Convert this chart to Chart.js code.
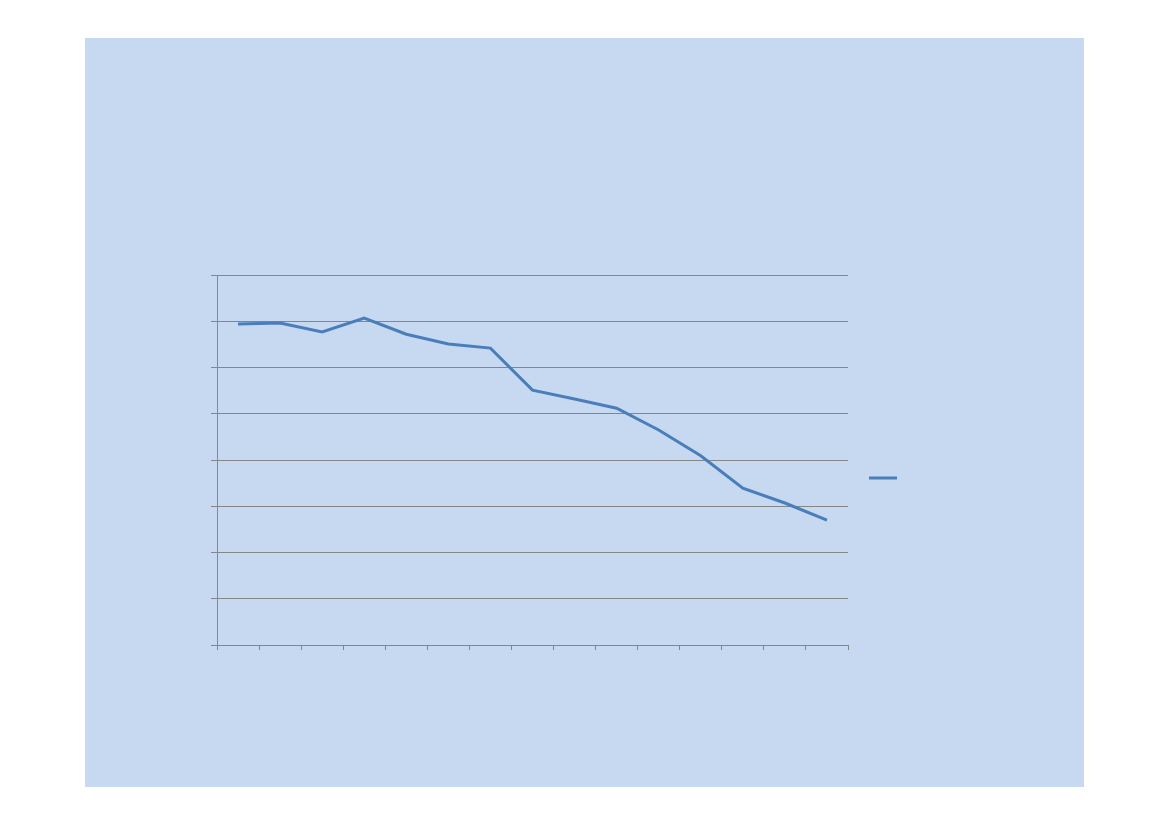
<!DOCTYPE html>
<html>
<head>
<meta charset="utf-8">
<script src="https://cdn.jsdelivr.net/npm/chart.js@4"></script>
<style>
  html, body { margin: 0; padding: 0; background: #ffffff; }
  #panel { position: absolute; left: 85px; top: 38px; width: 999px; height: 749px; background: #C6D9F1; }
  canvas { display: block; }
</style>
</head>
<body>
<div id="panel"><canvas id="c" width="999" height="749"></canvas></div>
<script>
const categories = ['1','2','3','4','5','6','7','8','9','10','11','12','13','14','15'];
const seriesValues = [6.94, 6.96, 6.77, 7.07, 6.72, 6.51, 6.42, 5.51, 5.32, 5.12, 4.65, 4.09, 3.39, 3.07, 2.70];
const yMin = 0, yMax = 8, yStep = 1;

const legendLine = {
  id: 'legendLine',
  afterDraw(chart) {
    const ctx = chart.ctx;
    const ds = chart.data.datasets[0];
    ctx.save();
    ctx.strokeStyle = ds.borderColor;
    ctx.lineWidth = 3;
    ctx.beginPath();
    ctx.moveTo(784, 440);
    ctx.lineTo(812, 440);
    ctx.stroke();
    ctx.restore();
  }
};

new Chart(document.getElementById('c'), {
  type: 'line',
  data: {
    labels: categories,
    datasets: [{
      data: seriesValues,
      borderColor: '#4A7EBB',
      borderWidth: 3,
      pointRadius: 0,
      tension: 0,
      fill: false
    }]
  },
  options: {
    responsive: false,
    animation: false,
    layout: { padding: { left: 126, top: 237, right: 236, bottom: 137 } },
    plugins: { legend: { display: false }, tooltip: { enabled: false } },
    scales: {
      x: {
        offset: true,
        grid: { offset: true, drawOnChartArea: false, drawTicks: true, tickLength: 5, color: '#868686' },
        border: { color: '#868686', width: 1 },
        ticks: { display: false },
        afterFit(s) { s.height = 5; }
      },
      y: {
        min: yMin, max: yMax,
        ticks: { stepSize: yStep, display: false },
        grid: { color: '#868686', lineWidth: 1, drawTicks: true, tickLength: 6 },
        border: { color: '#868686', width: 1 },
        afterFit(s) { s.width = 6; }
      }
    }
  },
  plugins: [legendLine]
});
</script>
</body>
</html>
